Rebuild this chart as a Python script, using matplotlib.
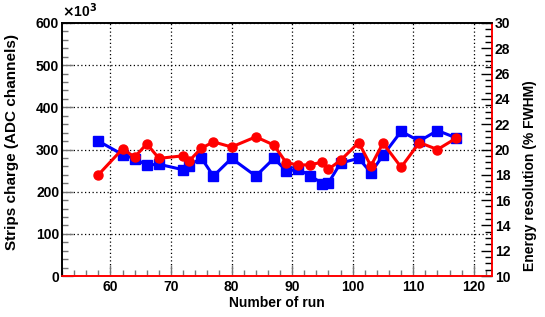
import matplotlib
matplotlib.use("Agg")
import matplotlib.pyplot as plt
from matplotlib.ticker import MultipleLocator

plt.rcParams['font.family'] = ['Liberation Sans', 'DejaVu Sans']
plt.rcParams['font.weight'] = 'bold'
plt.rcParams['mathtext.default'] = 'bf'

runs = [58, 62, 64, 66, 68, 72, 73, 75, 77, 80, 84, 87, 89, 91, 93, 95, 96, 98,
        101, 103, 105, 108, 111, 114, 117]
charge = [320, 288, 278, 263, 265, 252, 262, 280, 237, 279, 237, 279, 250, 253,
          238, 219, 221, 268, 279, 245, 286, 343, 320, 345, 328]
resolution = [18.0, 20.05, 19.4, 20.45, 19.3, 19.5, 19.1, 20.1, 20.6, 20.2, 21.0,
              20.35, 18.97, 18.76, 18.8, 19.0, 18.44, 19.15, 20.55, 18.7, 20.5,
              18.6, 20.55, 20.0, 20.87]

W, H = 545, 317
fig = plt.figure(figsize=(W/100, H/100), dpi=100)
ax = fig.add_axes([62/W, 1-276/H, 430/W, 253/H])
ax2 = ax.twinx()

ax.plot(runs, charge, color='#0000ff', lw=2.2, marker='s', ms=6.5, zorder=3)
ax2.plot(runs, resolution, color='#ff0000', lw=2.2, marker='o', ms=6.5, zorder=3)

ax.set_xlim(52, 123)
ax.set_ylim(0, 600)
ax2.set_ylim(10, 30)

ax.xaxis.set_major_locator(MultipleLocator(10))
ax.xaxis.set_minor_locator(MultipleLocator(2))
ax.yaxis.set_major_locator(MultipleLocator(100))
ax.yaxis.set_minor_locator(MultipleLocator(20))
ax2.yaxis.set_major_locator(MultipleLocator(2))
ax2.yaxis.set_minor_locator(MultipleLocator(0.5))

ax.grid(True, which='major', color='black', linestyle=(0, (1, 2)), lw=0.9)
ax.set_axisbelow(True)

ax.tick_params(axis='both', which='both', direction='in', colors='#777777',
               labelcolor='black', labelsize=10, right=False, top=False)
ax.tick_params(which='major', length=8, width=1)
ax.tick_params(which='minor', length=4, width=1)
ax.tick_params(axis='y', pad=2)
ax.tick_params(axis='x', pad=3)
ax2.tick_params(axis='y', which='both', direction='in', colors='black',
                labelsize=10, pad=2)
ax2.tick_params(which='major', length=8, width=1)
ax2.tick_params(which='minor', length=5, width=1)

for a in (ax, ax2):
    a.spines['left'].set_color('black')
    a.spines['top'].set_color('black')
    a.spines['bottom'].set_color('#ff0000')
    a.spines['right'].set_color('#ff0000')
    for s in a.spines.values():
        s.set_linewidth(1.2)

fig.text(277/W, 1-303/H, 'Number of run', fontsize=10, fontweight='bold',
         ha='center', va='center')
fig.text(12/W, 1-142.5/H, 'Strips charge (ADC channels)', fontsize=11,
         fontweight='bold', rotation=90, ha='center', va='center')
fig.text(530/W, 1-176/H, 'Energy resolution (% FWHM)', fontsize=10,
         fontweight='bold', rotation=90, ha='center', va='center')

ax.text(0.0, 1.01, r'$\times$10$^{3}$', transform=ax.transAxes, fontsize=10,
        ha='left', va='bottom')

fig.savefig('out.png', dpi=100)
